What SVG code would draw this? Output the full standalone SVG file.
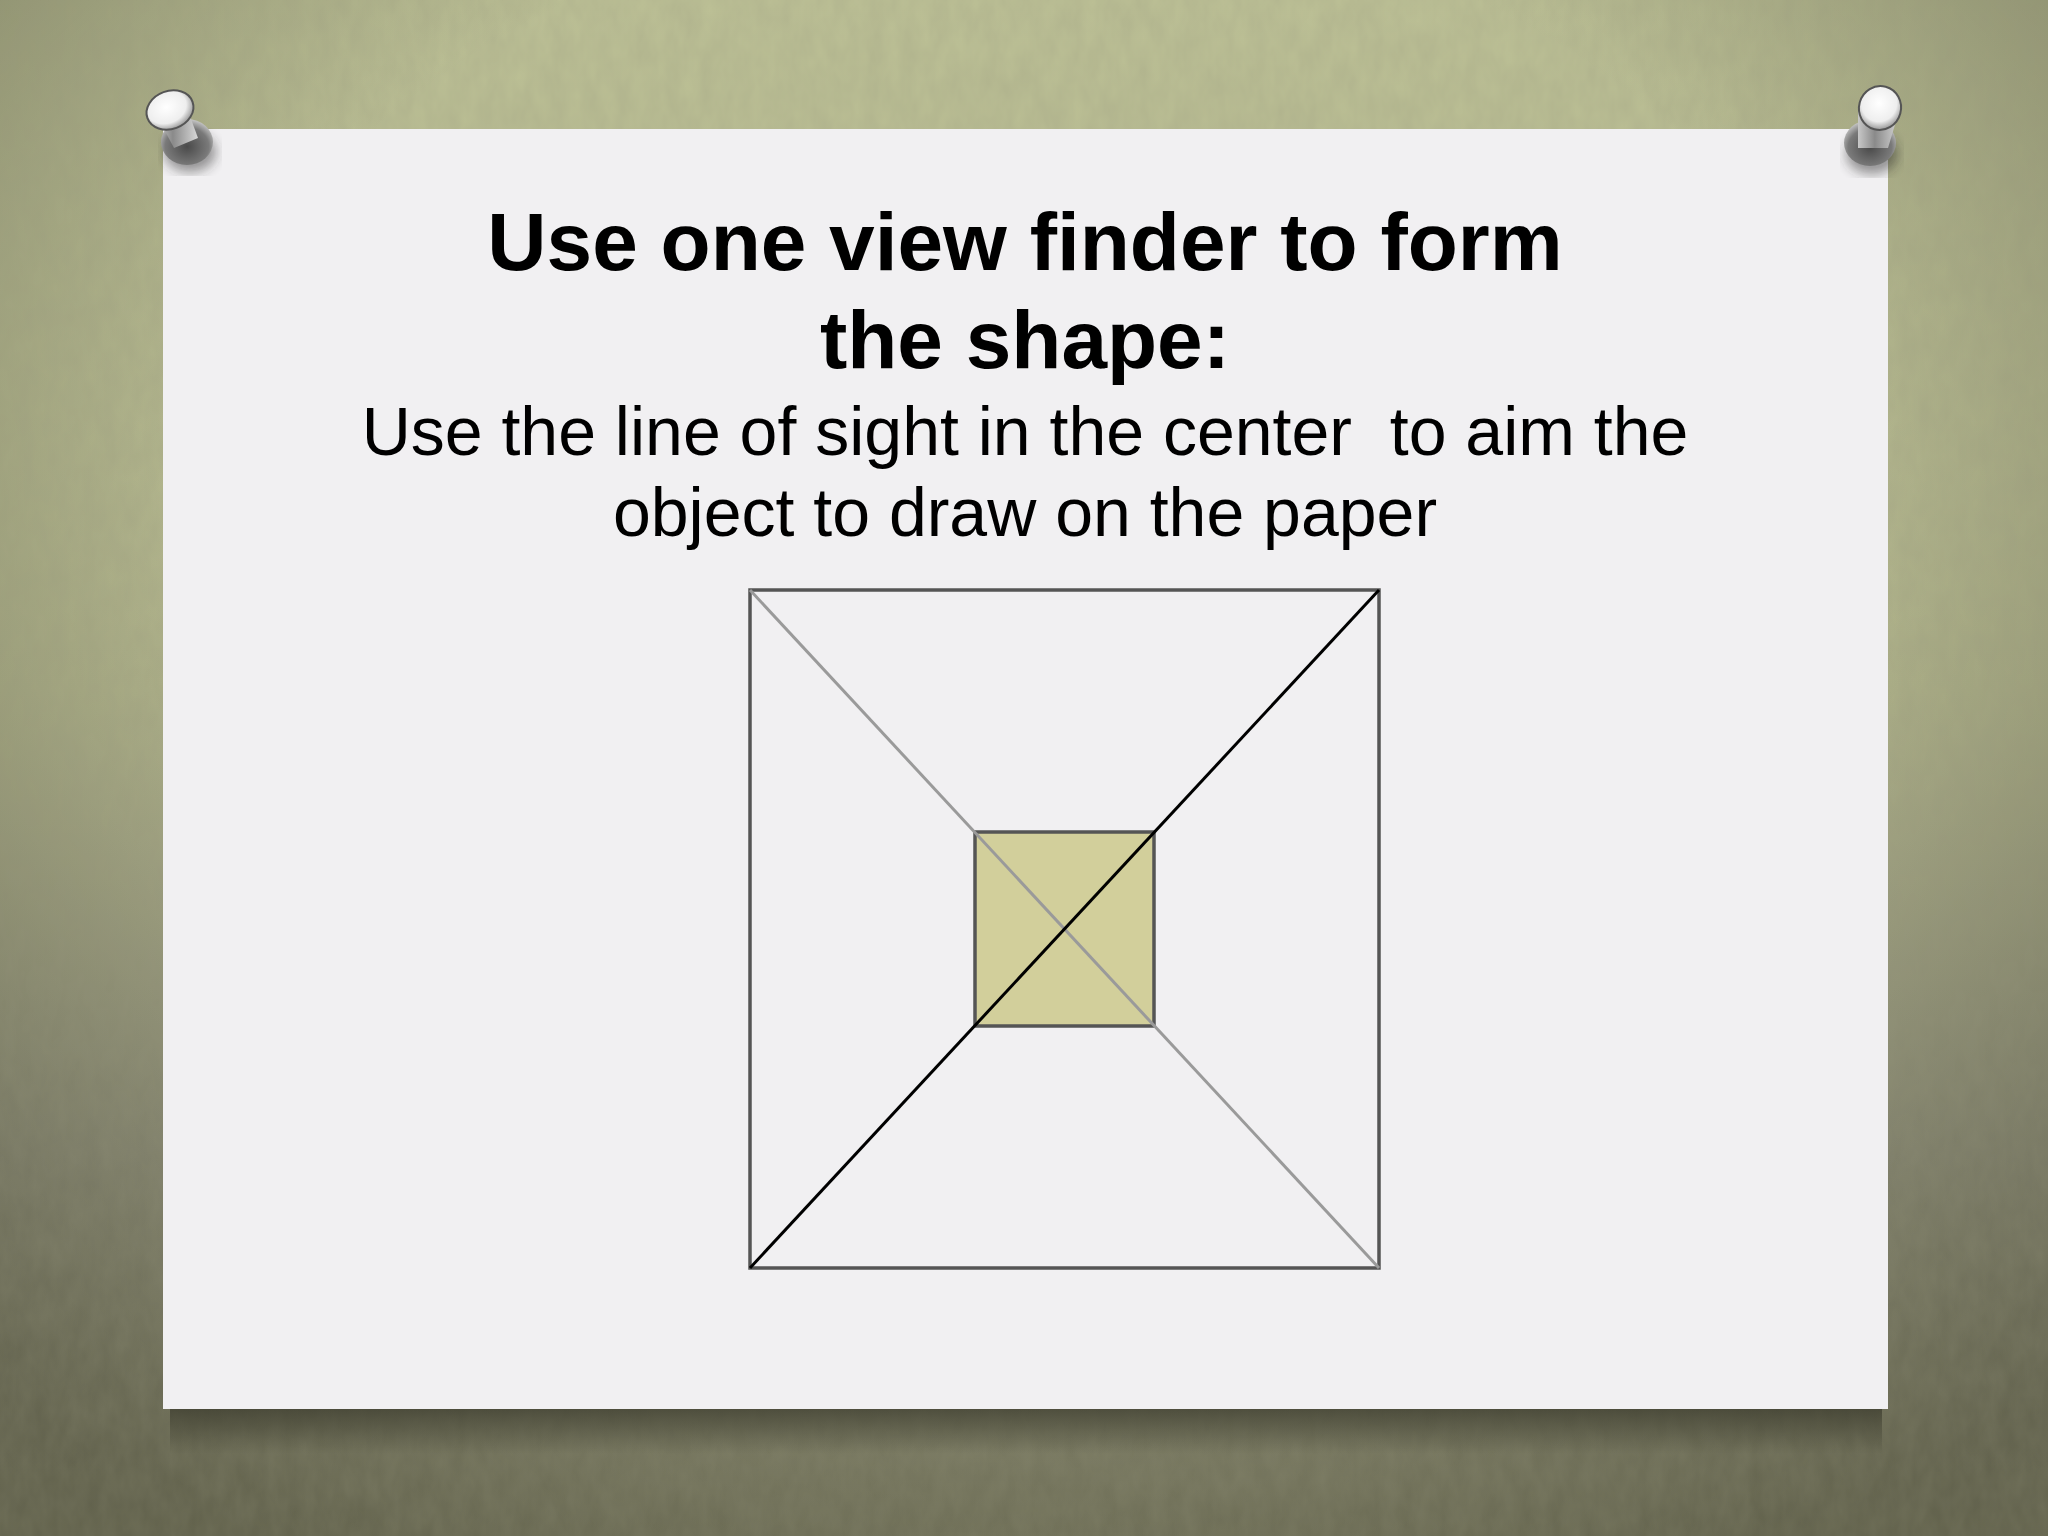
<svg xmlns="http://www.w3.org/2000/svg" width="2048" height="1536" viewBox="0 0 2048 1536">
<defs>
<linearGradient id="bgv" x1="0" y1="0" x2="0" y2="1">
<stop offset="0" stop-color="#bdc196"/>
<stop offset="0.45" stop-color="#afb28a"/>
<stop offset="0.75" stop-color="#999982"/>
<stop offset="1" stop-color="#8c8c70"/>
</linearGradient>
<radialGradient id="vig" cx="0.5" cy="0.35" r="0.75">
<stop offset="0.55" stop-color="#3c3c2c" stop-opacity="0"/>
<stop offset="1" stop-color="#3c3c2c" stop-opacity="0.55"/>
</radialGradient>
<radialGradient id="spot" cx="0.5" cy="1" r="0.5">
<stop offset="0" stop-color="#c3c29c" stop-opacity="0.8"/>
<stop offset="1" stop-color="#c3c29c" stop-opacity="0"/>
</radialGradient>
<linearGradient id="shadowBand" x1="0" y1="0" x2="0" y2="1">
<stop offset="0" stop-color="#3a3a2c" stop-opacity="0.7"/>
<stop offset="1" stop-color="#3a3a2c" stop-opacity="0"/>
</linearGradient>
<filter id="noise" x="0" y="0" width="100%" height="100%">
<feTurbulence type="fractalNoise" baseFrequency="0.06 0.03" numOctaves="3" seed="4" result="t"/>
<feColorMatrix type="matrix" values="0 0 0 0 0.3  0 0 0 0 0.3  0 0 0 0 0.2  0 0 0 0.28 0"/>
</filter>
<filter id="blur6"><feGaussianBlur stdDeviation="6"/></filter>
<radialGradient id="headG" cx="0.45" cy="0.4" r="0.6">
<stop offset="0" stop-color="#ffffff"/>
<stop offset="0.7" stop-color="#eeeeee"/>
<stop offset="1" stop-color="#9a9a9a"/>
</radialGradient>
<linearGradient id="shaftG" x1="0" y1="0" x2="1" y2="0">
<stop offset="0" stop-color="#c8c8c8"/>
<stop offset="0.4" stop-color="#8a8a8a"/>
<stop offset="1" stop-color="#d8d8d8"/>
</linearGradient>
<radialGradient id="baseG" cx="0.5" cy="0.6" r="0.6">
<stop offset="0" stop-color="#4a4a4a"/>
<stop offset="0.7" stop-color="#7a7a7a"/>
<stop offset="1" stop-color="#c8c8c8"/>
</radialGradient>
<style>
.title{font-family:"Liberation Sans",Arial,sans-serif;font-weight:bold;font-size:82px;fill:#000;text-anchor:middle}
.sub{font-family:"Liberation Sans",Arial,sans-serif;font-size:68px;fill:#000;text-anchor:middle;white-space:pre}
.frame{fill:none;stroke:#555;stroke-width:3.5}
</style>
</defs>
<g id="background">
<rect width="2048" height="1536" fill="url(#bgv)"/>
<rect x="200" y="1380" width="1650" height="300" fill="url(#spot)"/>
<rect width="2048" height="1536" fill="url(#vig)"/>
<rect width="2048" height="1536" filter="url(#noise)"/>
</g>
<g id="paper">
<rect x="170" y="1409" width="1712" height="45" fill="url(#shadowBand)"/>
<rect x="163" y="129" width="1725" height="1280" fill="#f1f0f2"/>
</g>
<g id="pins">
<g id="pin-left">
<ellipse cx="190" cy="152" rx="26" ry="20" fill="#222" opacity="0.45" filter="url(#blur6)"/>
<ellipse cx="187" cy="142" rx="26" ry="23" fill="url(#baseG)"/>
<path d="M156 114 L184 100 L198 138 L174 148 Z" fill="url(#shaftG)"/>
<ellipse cx="170" cy="110" rx="24" ry="19" transform="rotate(-20 170 110)" fill="url(#headG)" stroke="#555" stroke-width="2"/>
</g>
<g id="pin-right">
<ellipse cx="1872" cy="154" rx="26" ry="20" fill="#222" opacity="0.45" filter="url(#blur6)"/>
<ellipse cx="1870" cy="143" rx="26" ry="23" fill="url(#baseG)"/>
<path d="M1858 108 L1900 108 L1888 148 L1858 148 Z" fill="url(#shaftG)"/>
<ellipse cx="1880" cy="108" rx="21" ry="22" transform="rotate(15 1880 108)" fill="url(#headG)" stroke="#555" stroke-width="2"/>
</g>
</g>
<g id="title">
<text class="title" x="1025" y="270">Use one view finder to form</text>
<text class="title" x="1025" y="368">the shape:</text>
</g>
<g id="subtitle">
<text class="sub" x="1025" y="455" xml:space="preserve">Use the line of sight in the center  to aim the</text>
<text class="sub" x="1025" y="536">object to draw on the paper</text>
</g>
<g id="node-outer-square">
<rect class="frame" x="750" y="590" width="629" height="678"/>
</g>
<g id="node-inner-square">
<rect x="975" y="832" width="179" height="194" fill="#d2cf9b" stroke="#555" stroke-width="3.5"/>
</g>
<g id="connectors">
<line x1="750" y1="590" x2="1379" y2="1268" stroke="#9a9a9a" stroke-width="3"/>
<line x1="750" y1="1268" x2="1379" y2="590" stroke="#000" stroke-width="3"/>
</g>
</svg>
